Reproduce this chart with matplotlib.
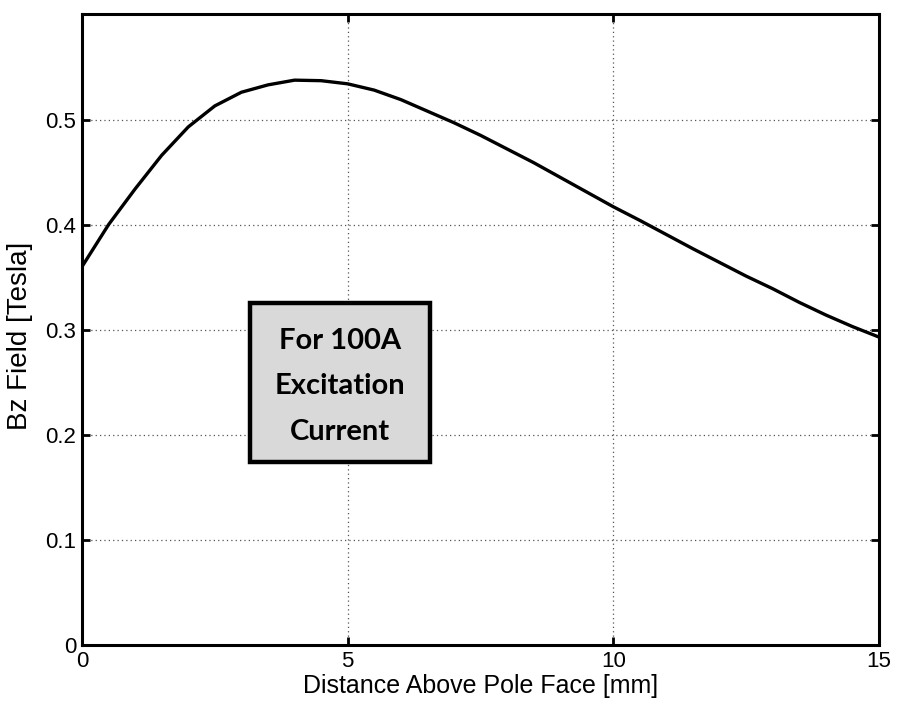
import matplotlib
matplotlib.use("Agg")
from matplotlib import pyplot as plt
from matplotlib.patches import Rectangle

# values
distance_mm = [0, 0.5, 1.0, 1.5, 2.0, 2.5, 3.0, 3.5, 4.0, 4.5, 5.0, 5.5, 6.0,
               6.5, 7.0, 7.5, 8.0, 8.5, 9.0, 9.5, 10.0, 10.5, 11.0, 11.5,
               12.0, 12.5, 13.0, 13.5, 14.0, 14.5, 15.0]
bz_tesla = [0.360, 0.400, 0.434, 0.466, 0.493, 0.513, 0.526, 0.533, 0.5375,
            0.537, 0.534, 0.528, 0.519, 0.508, 0.497, 0.485, 0.472, 0.459,
            0.445, 0.431, 0.417, 0.404, 0.3905, 0.377, 0.364, 0.351, 0.339,
            0.326, 0.314, 0.303, 0.293]
x_ticks = [0, 5, 10, 15]
y_ticks = [0, 0.1, 0.2, 0.3, 0.4, 0.5]
note_lines = ["For 100A", "Excitation", "Current"]

plt.rcParams["font.family"] = ["Liberation Sans", "DejaVu Sans"]

fig = plt.figure(figsize=(8.99, 7.06), dpi=100)
ax = fig.add_axes([0.0912, 0.0864, 0.8866, 0.8931])

ax.plot(distance_mm, bz_tesla, color="black", linewidth=2.4, zorder=3)

ax.set_xlim(0, 15)
ax.set_ylim(0, 0.6)
ax.set_xticks(x_ticks)
ax.set_xticklabels([str(t) for t in x_ticks])
ax.set_yticks(y_ticks)
ax.set_yticklabels(["0", "0.1", "0.2", "0.3", "0.4", "0.5"])
ax.tick_params(direction="in", length=6, width=2, top=True, right=True,
               labelsize=16, pad=4)
for s in ax.spines.values():
    s.set_linewidth(2.2)
ax.grid(True, linestyle=(0, (1, 2.5)), color="#555555", linewidth=0.9)

ax.set_xlabel("Distance Above Pole Face [mm]", fontsize=18, labelpad=2)
ax.set_ylabel("Bz Field [Tesla]", fontsize=20)
ax.yaxis.set_label_coords(-0.062, 0.49)

box = Rectangle((0.211, 0.290), 0.2256, 0.252, transform=ax.transAxes,
                facecolor="#d9d9d9", edgecolor="black", linewidth=3.2,
                zorder=4)
ax.add_patch(box)
ax.text(0.3238, 0.410, "\n".join(note_lines), transform=ax.transAxes,
        ha="center", va="center", fontsize=21, fontweight="bold",
        family=["Lato", "DejaVu Sans"], linespacing=1.95, zorder=5)

fig.savefig("out.png", dpi=100)
